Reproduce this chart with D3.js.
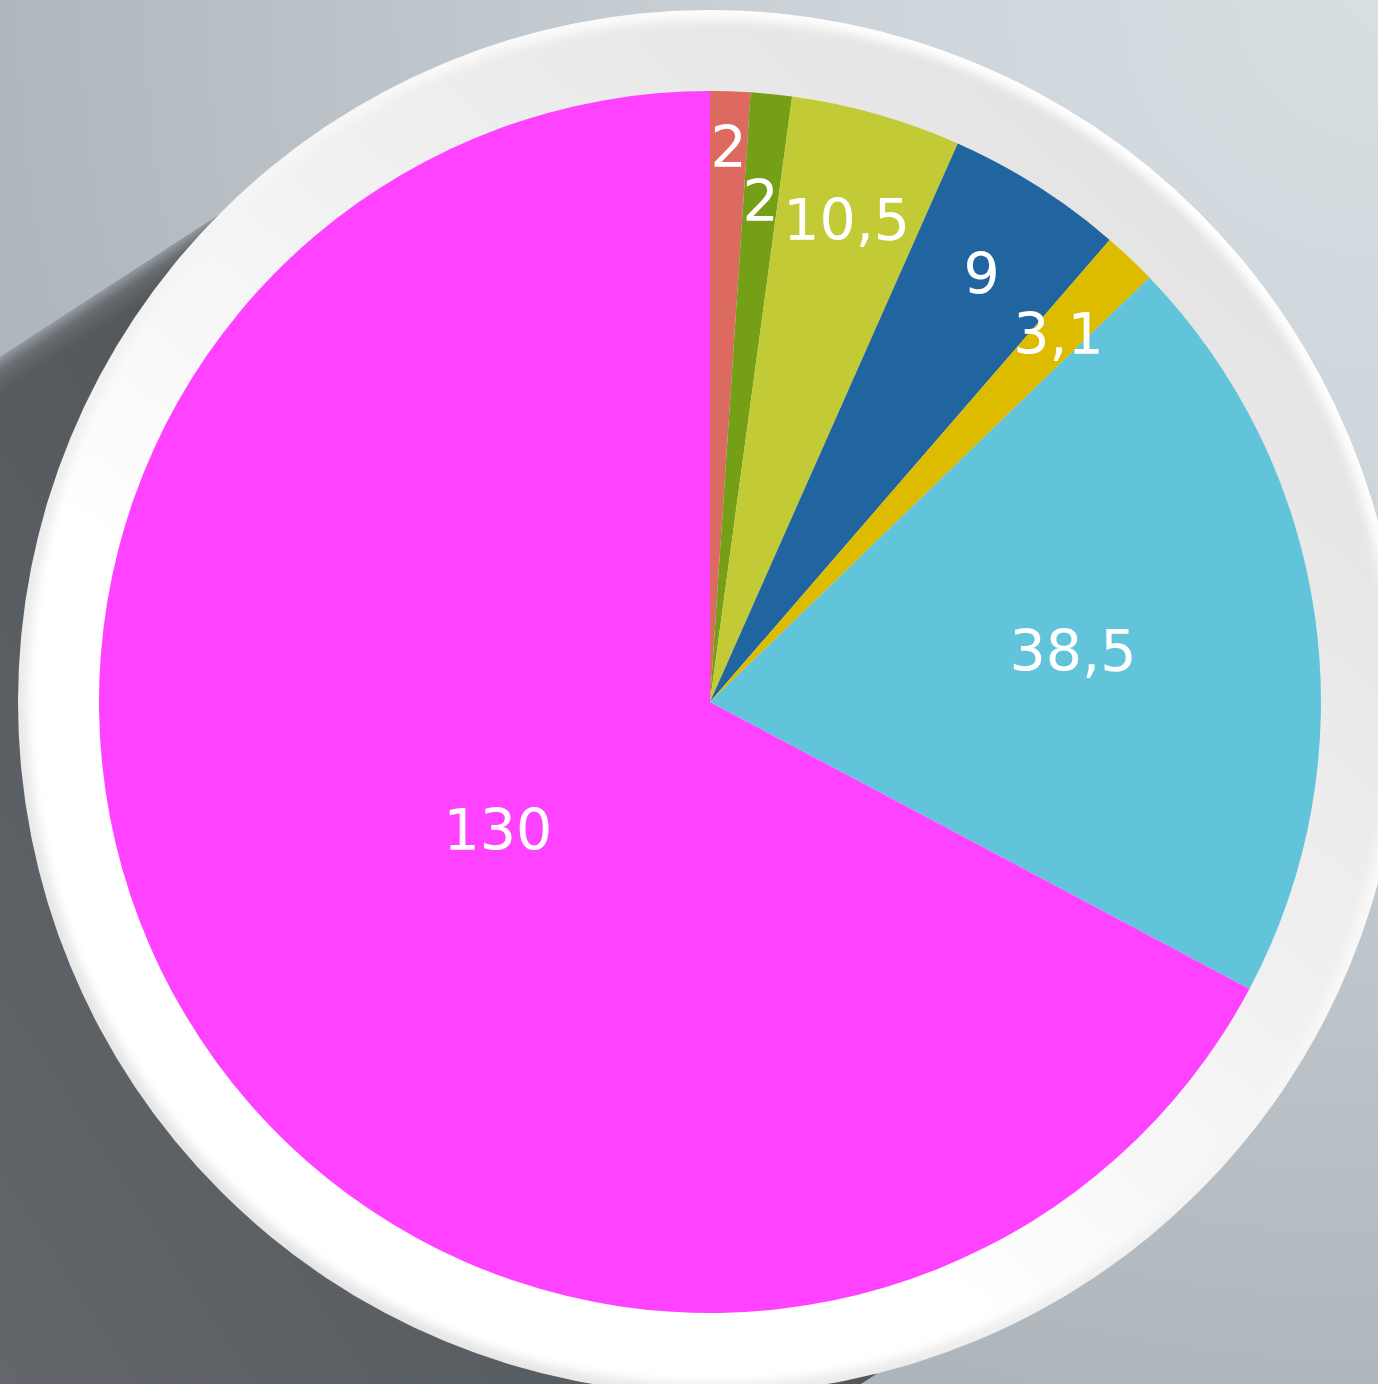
<!DOCTYPE html>
<html>
<head>
<meta charset="utf-8">
<script src="https://cdn.jsdelivr.net/npm/d3@7"></script>
<style>
    body { margin: 0; overflow: hidden; }
    .slice-label { font-family: "DejaVu Sans", sans-serif; font-size: 57px; fill: #fff; }
</style>
</head>
<body>
<script>
var categories = ['A', 'B', 'C', 'D', 'E', 'F', 'G'];
var values = [2.05, 2.1, 8.7, 9.1, 2.75, 38.7, 130];
var valueLabels = ['2', '2', '10,5', '9', '3,1', '38,5', '130'];
var colors = ['#dc6a60', '#749f17', '#c2cb35', '#2064a0', '#ddbc00', '#61c4db', '#ff42ff'];

var width = 1378, height = 1384;
var cx = 710, cy = 702;
var radius = 611;       // pie
var ringOuter = 692;    // white plate
var ringBevel = 682;
// how far out each label sits, as a share of the radius
var labelRadius = [0.91, 0.825, 0.82, 0.83, 0.83, 0.6, 0.405];

var svg = d3.select('body').append('svg')
    .attr('width', width)
    .attr('height', height);

var defs = svg.append('defs');

function linear(id, x1, y1, x2, y2, stops) {
    var g = defs.append('linearGradient')
        .attr('id', id)
        .attr('x1', x1).attr('y1', y1)
        .attr('x2', x2).attr('y2', y2);
    stops.forEach(function (s) {
        g.append('stop').attr('offset', s[0]).attr('stop-color', s[1])
            .attr('stop-opacity', s.length > 2 ? s[2] : 1);
    });
    return g;
}

var bg = defs.append('radialGradient')
    .attr('id', 'bg')
    .attr('gradientUnits', 'userSpaceOnUse')
    .attr('cx', width).attr('cy', 0).attr('r', 1900);
[[0, '#d8dfe3'], [0.25, '#ced6db'], [0.75, '#aeb6bc'], [1, '#a3abb2']].forEach(function (s) {
    bg.append('stop').attr('offset', s[0]).attr('stop-color', s[1]);
});

// long shadow heading down-left
var shAngle = 33 * Math.PI / 180;
var dir = [-Math.cos(shAngle), Math.sin(shAngle)];
var nrm = [Math.sin(shAngle), Math.cos(shAngle)];
var shR = 665, shLen = 2200, feather = 34;
var sx = cx - 6, sy = cy - 9;

linear('shadow', 0, 0, 1, 0, [[0, '#4d5256'], [1, '#6a6e72']])
    .attr('gradientUnits', 'userSpaceOnUse')
    .attr('x1', sx).attr('y1', sy)
    .attr('x2', sx + dir[0] * 1300).attr('y2', sy + dir[1] * 1300);

var e0 = [sx - nrm[0] * shR, sy - nrm[1] * shR];
linear('shadowEdge', 0, 0, 1, 0, [[0, '#a9b1b7', 0.75], [0.35, '#8d9398', 0.35], [1, '#6a6e72', 0]])
    .attr('gradientUnits', 'userSpaceOnUse')
    .attr('x1', e0[0]).attr('y1', e0[1])
    .attr('x2', e0[0] + nrm[0] * feather).attr('y2', e0[1] + nrm[1] * feather);

linear('plateOuter', 0.85, 0.1, 0.15, 0.9, [[0, '#ffffff'], [0.5, '#f4f4f4'], [1, '#e4e4e4']]);
linear('plateInner', 0.85, 0.1, 0.15, 0.9, [[0, '#e2e2e2'], [0.4, '#f1f1f1'], [0.7, '#ffffff'], [1, '#ffffff']]);

defs.append('filter')
    .attr('id', 'soft')
    .attr('x', '-5%').attr('y', '-5%').attr('width', '110%').attr('height', '110%')
    .append('feGaussianBlur').attr('stdDeviation', 5);

svg.append('rect')
    .attr('width', width)
    .attr('height', height)
    .attr('fill', 'url(#bg)');

function strip(off0, off1) {
    var pts = [
        [sx + nrm[0] * off0, sy + nrm[1] * off0],
        [sx + nrm[0] * off0 + dir[0] * shLen, sy + nrm[1] * off0 + dir[1] * shLen],
        [sx + nrm[0] * off1 + dir[0] * shLen, sy + nrm[1] * off1 + dir[1] * shLen],
        [sx + nrm[0] * off1, sy + nrm[1] * off1]
    ];
    return 'M' + pts.join('L') + 'Z';
}

svg.append('path')
    .attr('class', 'shadow')
    .attr('d', strip(-shR, shR))
    .attr('fill', 'url(#shadow)');
svg.append('path')
    .attr('class', 'shadow-edge')
    .attr('d', strip(-shR, -shR + feather))
    .attr('fill', 'url(#shadowEdge)');

svg.append('circle')
    .attr('cx', cx).attr('cy', cy).attr('r', ringOuter)
    .attr('fill', 'url(#plateOuter)');
svg.append('circle')
    .attr('cx', cx).attr('cy', cy).attr('r', ringBevel)
    .attr('fill', 'url(#plateInner)')
    .attr('filter', 'url(#soft)');

var pie = d3.pie().sort(null).value(function (d) { return d; });
var arc = d3.arc().innerRadius(0).outerRadius(radius);
var arcs = pie(values);

var g = svg.append('g').attr('transform', 'translate(' + cx + ',' + cy + ')');

g.selectAll('path.slice')
    .data(arcs)
    .enter().append('path')
    .attr('class', 'slice')
    .attr('d', arc)
    .attr('fill', function (d, i) { return colors[i]; });

g.selectAll('text.slice-label')
    .data(arcs)
    .enter().append('text')
    .attr('class', 'slice-label')
    .attr('transform', function (d, i) {
        var r = radius * labelRadius[i];
        var p = d3.arc().innerRadius(r).outerRadius(r).centroid(d);
        return 'translate(' + p[0] + ',' + p[1] + ')';
    })
    .attr('text-anchor', 'middle')
    .attr('dy', '0.36em')
    .text(function (d, i) { return valueLabels[i]; });
</script>
</body>
</html>
